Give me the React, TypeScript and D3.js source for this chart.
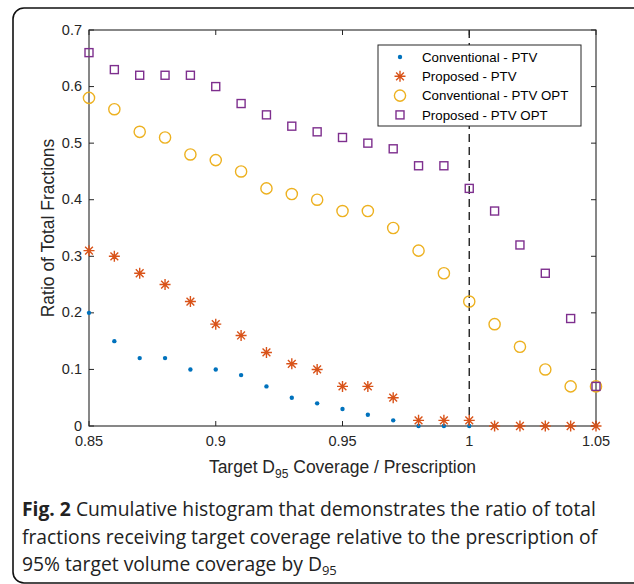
import React from "react";
import * as d3 from "d3";

const xValues = [0.85, 0.86, 0.87, 0.88, 0.89, 0.9, 0.91, 0.92, 0.93, 0.94, 0.95, 0.96, 0.97, 0.98, 0.99, 1.0, 1.01, 1.02, 1.03, 1.04, 1.05];
const conventionalPTV = [0.2, 0.15, 0.12, 0.12, 0.1, 0.1, 0.09, 0.07, 0.05, 0.04, 0.03, 0.02, 0.01, 0, 0, 0, 0, 0, 0, 0, 0];
const proposedPTV = [0.31, 0.3, 0.27, 0.25, 0.22, 0.18, 0.16, 0.13, 0.11, 0.1, 0.07, 0.07, 0.05, 0.01, 0.01, 0.01, 0, 0, 0, 0, 0];
const conventionalOPT = [0.58, 0.56, 0.52, 0.51, 0.48, 0.47, 0.45, 0.42, 0.41, 0.4, 0.38, 0.38, 0.35, 0.31, 0.27, 0.22, 0.18, 0.14, 0.1, 0.07, 0.07];
const proposedOPT = [0.66, 0.63, 0.62, 0.62, 0.62, 0.6, 0.57, 0.55, 0.53, 0.52, 0.51, 0.5, 0.49, 0.46, 0.46, 0.42, 0.38, 0.32, 0.27, 0.19, 0.07];
const xTicks = [0.85, 0.9, 0.95, 1, 1.05];
const yTicks = [0, 0.1, 0.2, 0.3, 0.4, 0.5, 0.6, 0.7];
const legendLabels = ["Conventional - PTV", "Proposed - PTV", "Conventional - PTV OPT", "Proposed - PTV OPT"];
const colors = ["#0072BD", "#D95319", "#EDB120", "#7E2F8E"];

const W = 634, H = 584;
const left = 89, right = 596, top = 30, bottom = 426;
const axisColor = "#262626";
const font = "'Liberation Sans', Arial, sans-serif";

function Asterisk({ x, y, s, color }: { x: number; y: number; s: number; color: string }) {
  const d = s * 0.7071;
  return (
    <path
      d={`M${x - s},${y}L${x + s},${y}M${x},${y - s}L${x},${y + s}M${x - d},${y - d}L${x + d},${y + d}M${x - d},${y + d}L${x + d},${y - d}`}
      stroke={color}
      strokeWidth={1.4}
      fill="none"
    />
  );
}

function Marker({ kind, x, y }: { kind: number; x: number; y: number }) {
  if (kind === 0) return <circle cx={x} cy={y} r={2.2} fill={colors[0]} />;
  if (kind === 1) return <Asterisk x={x} y={y} s={5.5} color={colors[1]} />;
  if (kind === 2) return <circle cx={x} cy={y} r={5.6} fill="none" stroke={colors[2]} strokeWidth={1.4} />;
  return <rect x={x - 4} y={y - 4} width={8} height={8} fill="none" stroke={colors[3]} strokeWidth={1.4} />;
}

export default function App() {
  const xs = d3.scaleLinear().domain([0.85, 1.05]).range([left, right]);
  const ys = d3.scaleLinear().domain([0, 0.7]).range([bottom, top]);
  const series = [conventionalPTV, proposedPTV, conventionalOPT, proposedOPT];
  const tickLen = 5;

  const legX = 378, legY = 45, legW = 203, legH = 81;

  return (
    <div style={{ position: "absolute", left: 0, top: 0 }}>
      <svg width={W} height={H} style={{ display: "block" }}>
        <rect x={0} y={0} width={W} height={H} fill="#fff" />
        <rect x={13} y={8} width={650} height={575} rx={11} ry={11} fill="none" stroke="#111" strokeWidth={1.6} />

        {/* axes box */}
        <rect x={left} y={top} width={right - left} height={bottom - top} fill="none" stroke={axisColor} strokeWidth={1.1} />
        {xTicks.map((t) => (
          <g key={"xt" + t}>
            <line x1={xs(t)} x2={xs(t)} y1={bottom} y2={bottom - tickLen} stroke={axisColor} strokeWidth={1} />
            <line x1={xs(t)} x2={xs(t)} y1={top} y2={top + tickLen} stroke={axisColor} strokeWidth={1} />
            <text x={xs(t)} y={bottom + 20} textAnchor="middle" fontFamily={font} fontSize={14.5} fill={axisColor}>
              {String(t)}
            </text>
          </g>
        ))}
        {yTicks.map((t) => (
          <g key={"yt" + t}>
            <line x1={left} x2={left + tickLen} y1={ys(t)} y2={ys(t)} stroke={axisColor} strokeWidth={1} />
            <line x1={right} x2={right - tickLen} y1={ys(t)} y2={ys(t)} stroke={axisColor} strokeWidth={1} />
            <text x={left - 7} y={ys(t) + 4.5} textAnchor="end" fontFamily={font} fontSize={14.5} fill={axisColor}>
              {String(t)}
            </text>
          </g>
        ))}

        {/* dashed reference line */}
        <line x1={xs(1)} x2={xs(1)} y1={top} y2={bottom} stroke="#222" strokeWidth={1.4} strokeDasharray="8,5" />

        {/* data */}
        {series.map((vals, si) => (
          <g key={"s" + si}>
            {vals.map((v, i) => (
              <Marker key={i} kind={si} x={xs(xValues[i])} y={ys(v)} />
            ))}
          </g>
        ))}

        {/* axis labels */}
        <text x={(left + right) / 2} y={473} textAnchor="middle" fontFamily={font} fontSize={17.5} fill={axisColor}>
          Target D<tspan dy={5} fontSize={12}>95</tspan>
          <tspan dy={-5}> Coverage / Prescription</tspan>
        </text>
        <text
          transform={`translate(54,${(top + bottom) / 2}) rotate(-90)`}
          textAnchor="middle"
          fontFamily={font}
          fontSize={17.5}
          fill={axisColor}
        >
          Ratio of Total Fractions
        </text>

        {/* legend */}
        <rect x={legX} y={legY} width={legW} height={legH} fill="#fff" stroke={axisColor} strokeWidth={1} />
        {legendLabels.map((lab, i) => {
          const cy = legY + 12 + i * 19.3;
          return (
            <g key={"lg" + i}>
              <Marker kind={i} x={400} y={cy} />
              <text x={422} y={cy + 4.7} fontFamily={font} fontSize={13.3} fill="#000">
                {lab}
              </text>
            </g>
          );
        })}

        {/* caption */}
        <g fontFamily="'Open Sans', 'Noto Sans', sans-serif" fontSize={19.3} fill="#222">
          <text x={22} y={516}>
            <tspan fontWeight="bold">Fig. 2</tspan> Cumulative histogram that demonstrates the ratio of total
          </text>
          <text x={22} y={544}>fractions receiving target coverage relative to the prescription of</text>
          <text x={22} y={571}>
            95% target volume coverage by D<tspan dy={4} fontSize={13}>95</tspan>
          </text>
        </g>
      </svg>
    </div>
  );
}
